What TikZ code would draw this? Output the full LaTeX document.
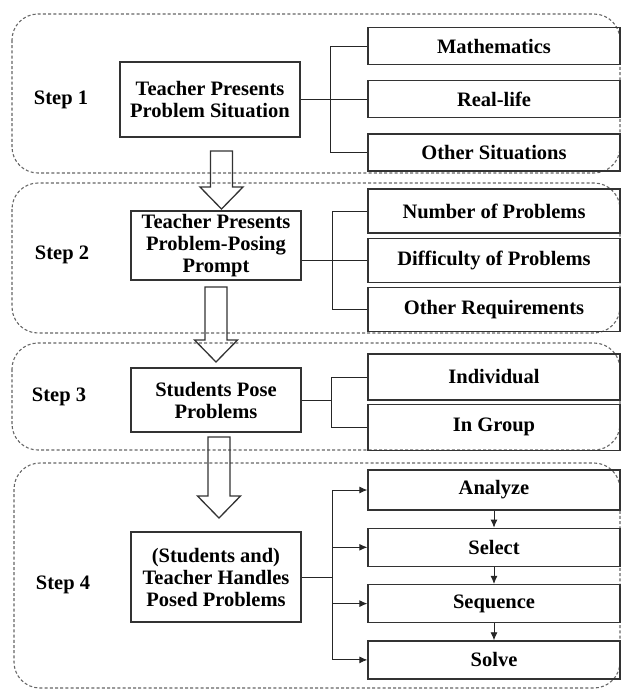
\documentclass[tikz,border=0pt]{standalone}
\usepackage{fontspec}
\setmainfont{Liberation Serif}
\usetikzlibrary{positioning,arrows.meta,calc}

\newcommand{\bigarrow}[2]{%
  \draw[hollow] let \p1=(#1), \p2=(#2) in
    (\x1-11pt,\y1) -- (\x1+11pt,\y1) -- (\x1+11pt,\y2+22pt) -- (\x1+21.5pt,\y2+22pt)
    -- (\x1,\y2) -- (\x1-21.5pt,\y2+22pt) -- (\x1-11pt,\y2+22pt) -- cycle;}

\begin{document}
\begin{tikzpicture}[x=1pt, y=-1pt,
font=\bfseries\fontsize{20.5}{22}\selectfont,
frame/.style={draw=black!60, line width=1.1pt, dash pattern=on 3pt off 2.2pt, rounded corners=26pt},
main/.style={draw=black!80, line width=1.3pt, align=center, minimum width=170pt, inner sep=2pt},
option/.style={draw=black!80, line width=1.3pt, minimum width=252pt, inner sep=2pt},
conn/.style={draw=black!85, line width=0.9pt},
arrow/.style={conn, -{Latex[length=8pt,width=7pt]}},
hollow/.style={draw=black!80, line width=1.3pt, line join=miter},
]

\useasboundingbox (0,0) rectangle (623,689);

\draw[frame] (12,14) rectangle (620,173);
\draw[frame] (12,183) rectangle (620,333);
\draw[frame] (12,343) rectangle (620,450);
\draw[frame] (14,463) rectangle (620,688);

\node (step1) at (61,100) {Step 1};
\node (step2) at (62,255) {Step 2};
\node (step3) at (59,397) {Step 3};
\node (step4) at (63,585) {Step 4};

\node[main, minimum width=180pt, minimum height=75pt] (present) at (210,99.5) {Teacher Presents\\Problem Situation};
\node[option, minimum height=37pt] (math) at (494,46) {Mathematics};
\node[option, minimum height=37pt] (real) [below=15pt of math] {Real-life};
\node[option, minimum height=37pt] (other) [below=15pt of real] {Other Situations};

\node[main, minimum height=69pt] (prompt) at (216,245.5) {Teacher Presents\\Problem-Posing\\Prompt};
\node[option, minimum height=44pt] (number) at (494,211) {Number of Problems};
\node[option, minimum height=44pt] (difficulty) [below=4pt of number] {Difficulty of Problems};
\node[option, minimum height=44pt] (requirement) [below=4pt of difficulty] {Other Requirements};

\node[main, minimum height=64pt] (pose) at (216,400) {Students Pose\\Problems};
\node[option, minimum height=46pt] (individual) at (494,377) {Individual};
\node[option, minimum height=46pt] (group) [below=3pt of individual] {In Group};

\node[main, minimum height=90pt] (handle) at (216,577) {(Students and)\\Teacher Handles\\Posed Problems};
\node[option, minimum height=40pt] (analyze) at (494,490) {Analyze};
\node[option, minimum height=38pt] (select) [below=17pt of analyze] {Select};
\node[option, minimum height=38pt] (sequence) [below=17pt of select] {Sequence};
\node[option, minimum height=38pt] (solve) [below=17pt of sequence] {Solve};

\coordinate (j1) at (330,0);
\coordinate (j2) at (332,0);
\coordinate (j3) at (331,0);
\coordinate (j4) at (332,0);

\draw[conn] (present.east) -- (present.east -| j1);
\draw[conn] (math.west) -| (j1 |- other.west) -- (other.west);
\draw[conn] (j1 |- real.west) -- (real.west);

\draw[conn] (prompt.east |- difficulty.west) -- (difficulty.west);
\draw[conn] (number.west) -| (j2 |- requirement.west) -- (requirement.west);

\draw[conn] (pose.east) -- (pose.east -| j3);
\draw[conn] (individual.west) -| (j3 |- group.west) -- (group.west);

\draw[conn] (handle.east) -- (handle.east -| j4);
\draw[conn] (j4 |- analyze.west) -- (j4 |- solve.west);
\draw[arrow] (j4 |- analyze.west) -- (analyze.west);
\draw[arrow] (j4 |- select.west) -- (select.west);
\draw[arrow] (j4 |- sequence.west) -- (sequence.west);
\draw[arrow] (j4 |- solve.west) -- (solve.west);
\draw[arrow] (analyze) -- (select);
\draw[arrow] (select) -- (sequence);
\draw[arrow] (sequence) -- (solve);

\coordinate (a1) at (221.5,151);
\coordinate (t1) at (221.5,209);
\coordinate (a2) at (216,287);
\coordinate (t2) at (216,362);
\coordinate (a3) at (219,437);
\coordinate (t3) at (219,518);
\bigarrow{a1}{t1}
\bigarrow{a2}{t2}
\bigarrow{a3}{t3}

\end{tikzpicture}
\end{document}
